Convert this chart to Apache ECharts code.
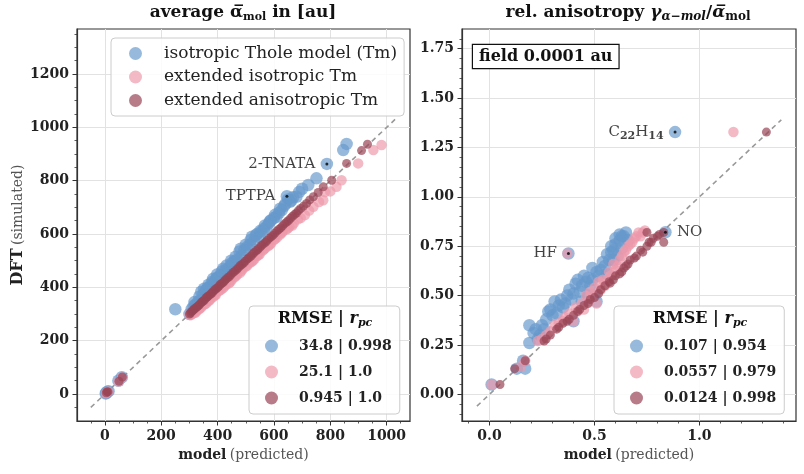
<!DOCTYPE html>
<html lang="en">
<head>
    <meta charset="UTF-8">
    <title>Thole model polarizabilities</title>
    <script src="https://cdn.jsdelivr.net/npm/echarts@6/dist/echarts.min.js"></script>
</head>
<body style="margin:0">
    <div id="main" style="width: 804px;height:474px;"></div>
    <script type="text/javascript">
        // series names and stats
        var names = ['isotropic Thole model (Tm)', 'extended isotropic Tm', 'extended anisotropic Tm'];
        var colors = ['rgba(102,153,204,0.85)', 'rgba(238,153,170,0.85)', 'rgba(153,68,85,0.88)'];
        var statsL = ['34.8 | 0.998', '25.1 | 1.0', '0.945 | 1.0'];
        var statsR = ['0.107 | 0.954', '0.0557 | 0.979', '0.0124 | 0.998'];

        // ticks
        var xTicksL = [0, 200, 400, 600, 800, 1000];
        var yTicksL = [0, 200, 400, 600, 800, 1000, 1200];
        var xMinorL = [-50, 50, 100, 150, 250, 300, 350, 450, 500, 550, 650, 700, 750, 850, 900, 950, 1050];
        var yMinorL = [-50, 50, 100, 150, 250, 300, 350, 450, 500, 550, 650, 700, 750, 850, 900, 950, 1050, 1100, 1150, 1250, 1300, 1350];
        var xTicksR = [0, 0.5, 1.0];
        var yTicksR = [0, 0.25, 0.5, 0.75, 1.0, 1.25, 1.5, 1.75];
        var xMinorR = [-0.1, 0.1, 0.2, 0.3, 0.4, 0.6, 0.7, 0.8, 0.9, 1.1, 1.2, 1.3, 1.4];
        var yMinorR = [-0.10, -0.05, 0.05, 0.10, 0.15, 0.20, 0.30, 0.35, 0.40, 0.45, 0.55, 0.60, 0.65, 0.70,
            0.80, 0.85, 0.90, 0.95, 1.05, 1.10, 1.15, 1.20, 1.30, 1.35, 1.40, 1.45, 1.55, 1.60, 1.65, 1.70, 1.80];

        // average polarizability (left)
        var isoL = [[5,4],[9,9],[13,11],[3,2],[48,50],[60,63],[250,318],
            [300,300],[308,318],[315,330],[322,336],[330,345],[338,352],[342,384],[350,375],[358,388],[365,398],
            [372,402],[380,420],[388,418],[395,432],[402,438],[410,445],[420,470],[428,462],[436,470],[445,478],
            [452,492],[460,498],[470,505],[478,535],[486,520],[495,540],[505,552],[515,560],[522,590],[530,575],
            [540,600],[548,590],[556,610],[565,620],[574,627],[582,640],[590,652],[600,660],[609,665],[618,680],
            [628,690],[640,712],[650,730],[646,742],[657,721],[668,738],[680,740],[700,770],[722,784],[751,809],
            [788,863],[846,915],[858,938],
            [318,345],[335,365],[352,395],[368,410],[384,432],[398,448],[415,460],[432,482],[448,500],[464,515],
            [482,545],[500,560],[518,578],[536,596],[552,612],[568,632],[586,648],[604,672],[622,695],[636,705],
            [662,726],[690,758]];
        var extL = [[4,3],[8,7],[12,10],[49,47],[61,62],[300,298],[310,300],[318,305],[326,312],[334,318],
            [342,325],[350,335],[360,340],[368,350],[376,358],[385,365],[394,372],[402,385],[412,392],[420,398],
            [430,410],[440,415],[450,428],[460,438],[470,448],[480,455],[490,470],[500,478],[512,490],[520,495],
            [530,505],[540,518],[550,525],[560,538],[570,548],[580,555],[590,565],[600,578],[612,588],[622,598],
            [632,610],[645,618],[655,628],[670,640],[685,655],[710,671],[740,702],[775,727],[781,758],[822,777],
            [840,802],[899,865],[953,915],[982,934],
            [305,296],[322,306],[338,322],[356,338],[372,352],[390,370],[407,388],[425,404],[445,420],[465,443],
            [485,462],[505,482],[525,500],[545,520],[565,543],[585,560],[605,582],[628,605],[650,622],[665,632],
            [695,660],[725,688],[760,720],[800,760]];
        var aniL = [[5,5],[8,9],[11,8],[50,48],[62,64],[300,300],[308,309],[316,317],[325,325],[334,333],
            [343,344],[352,351],[361,362],[370,370],[380,379],[390,391],[400,399],[410,411],[420,419],[430,431],
            [442,441],[455,456],[468,467],[480,481],[492,491],[505,506],[518,517],[530,531],[543,542],[556,557],
            [570,569],[583,584],[596,595],[610,611],[624,623],[638,639],[652,651],[666,667],[680,679],[695,696],
            [716,715],[740,740],[775,777],[805,802],[858,865],[911,913],[932,937],
            [304,304],[312,313],[320,321],[329,329],[338,338],[347,347],[356,357],[365,366],[375,375],[385,385],
            [395,395],[405,405],[415,415],[425,425],[436,436],[448,448],[461,461],[474,474],[486,486],[498,498],
            [511,511],[524,524],[537,537],[550,550],[563,563],[576,576],[590,590],[603,603],[617,617],[631,631],
            [645,645],[659,659],[673,673],[687,688],[705,705],[727,728],[757,756]];

        // relative anisotropy (right)
        var isoR = [[0.01,0.05],[0.13,0.13],[0.17,0.13],[0.16,0.17],[0.19,0.26],[0.19,0.35],[0.22,0.33],
            [0.25,0.35],[0.24,0.30],[0.28,0.42],[0.30,0.40],[0.33,0.45],[0.31,0.47],[0.35,0.44],[0.37,0.50],
            [0.39,0.48],[0.41,0.56],[0.43,0.52],[0.46,0.57],[0.48,0.55],[0.51,0.62],[0.50,0.50],[0.51,0.47],
            [0.40,0.37],[0.53,0.63],[0.55,0.65],[0.57,0.68],[0.58,0.72],[0.59,0.73],[0.60,0.76],[0.62,0.78],
            [0.63,0.80],[0.65,0.82],[0.64,0.80],[0.52,0.60],[0.56,0.61],[0.61,0.70],[0.376,0.713],[0.838,0.821],
            [0.884,1.328],
            [0.21,0.31],[0.23,0.28],[0.26,0.33],[0.27,0.38],[0.29,0.43],[0.32,0.41],[0.34,0.48],[0.36,0.46],
            [0.38,0.53],[0.40,0.51],[0.42,0.58],[0.44,0.55],[0.45,0.60],[0.47,0.59],[0.49,0.64],[0.54,0.67],
            [0.56,0.71],[0.58,0.75],[0.60,0.79],[0.62,0.81],[0.59,0.68],[0.63,0.74],[0.66,0.78],[0.47,0.50],
            [0.44,0.47],[0.49,0.58]];
        var extR = [[0.01,0.05],[0.15,0.14],[0.17,0.17],[0.23,0.27],[0.27,0.30],[0.29,0.32],[0.33,0.36],
            [0.36,0.39],[0.40,0.37],[0.42,0.42],[0.45,0.43],[0.47,0.47],[0.49,0.50],[0.51,0.46],[0.53,0.53],
            [0.55,0.55],[0.56,0.58],[0.58,0.60],[0.60,0.63],[0.61,0.65],[0.63,0.70],[0.64,0.72],[0.66,0.75],
            [0.68,0.77],[0.69,0.79],[0.71,0.82],[0.73,0.82],[0.371,0.713],[1.162,1.328],
            [0.25,0.28],[0.31,0.35],[0.35,0.37],[0.38,0.41],[0.41,0.44],[0.44,0.46],[0.46,0.50],[0.48,0.52],
            [0.50,0.54],[0.52,0.57],[0.54,0.58],[0.57,0.62],[0.59,0.66],[0.62,0.68],[0.65,0.73],[0.67,0.76],
            [0.70,0.80],[0.72,0.80],[0.74,0.83]];
        var aniR = [[0.05,0.05],[0.12,0.13],[0.17,0.17],[0.26,0.27],[0.29,0.30],[0.32,0.33],[0.35,0.36],
            [0.38,0.38],[0.42,0.42],[0.45,0.45],[0.48,0.48],[0.50,0.49],[0.52,0.51],[0.55,0.55],[0.575,0.563],
            [0.60,0.60],[0.62,0.61],[0.64,0.64],[0.66,0.66],[0.69,0.69],[0.72,0.73],[0.75,0.75],[0.77,0.77],
            [0.80,0.80],[0.83,0.82],[0.83,0.77],[0.75,0.82],[1.319,1.328],
            [0.27,0.28],[0.33,0.34],[0.37,0.37],[0.40,0.40],[0.43,0.43],[0.47,0.46],[0.53,0.53],[0.57,0.57],
            [0.59,0.58],[0.63,0.62],[0.65,0.65],[0.67,0.68],[0.70,0.70],[0.73,0.72],[0.76,0.77],[0.78,0.79],
            [0.81,0.81]];

        // labelled molecules
        var markL = [[788,863,'2-TNATA','left'],[646,742,'TPTPA','left']];
        var markR = [[0.376,0.713,'HF','left'],[0.838,0.821,'NO','right'],[0.884,1.328,'{n|C}{s|22}{n|H}{s|14}','left']];

        // y = x guide lines
        var diagL = [[-50,-50],[1030,1030]];
        var diagR = [[-0.06,-0.06],[1.39,1.39]];

        var myChart = echarts.init(document.getElementById('main'));

        var serif = 'DejaVu Serif';
        var tickFont = {fontFamily: serif, fontWeight: 'bold', fontSize: 14, color: '#222'};
        var sizes = [12.5, 10.5, 9];

        function mainAxis(grid, lo, hi, ticks, fmt, extra) {
            var a = {
                type: 'value', gridIndex: grid, min: lo, max: hi,
                axisLine: {show: true, onZero: false, lineStyle: {color: '#333', width: 1.2}},
                axisTick: {show: true, customValues: ticks, length: 4.5, lineStyle: {color: '#333', width: 1}},
                axisLabel: Object.assign({customValues: ticks, margin: 8, formatter: fmt}, tickFont),
                splitLine: {show: true, lineStyle: {color: '#e2e2e2', width: 1}}
            };
            return Object.assign(a, extra || {});
        }
        function minorAxis(grid, lo, hi, ticks, pos) {
            return {
                type: 'value', gridIndex: grid, min: lo, max: hi, position: pos,
                axisLine: {show: false, onZero: false},
                axisTick: {show: true, customValues: ticks, length: 2.5, lineStyle: {color: '#333', width: 0.8}},
                axisLabel: {show: false},
                splitLine: {show: false}
            };
        }

        var xName = {
            name: '{b|model} {n|(predicted)}', nameLocation: 'middle', nameGap: 27,
            nameTextStyle: {rich: {
                b: {fontFamily: serif, fontWeight: 'bold', fontSize: 14, color: '#222'},
                n: {fontFamily: serif, fontSize: 14, color: '#555'}
            }}
        };

        var series = [];
        function addPanel(gi, data, marks, diag) {
            series.push({
                type: 'line', xAxisIndex: gi * 2, yAxisIndex: gi * 2, data: diag, symbol: 'none', z: 1,
                lineStyle: {color: '#999', width: 1.6, type: [5, 4]}, silent: true
            });
            for (var i = 0; i < 3; i++) {
                series.push({
                    name: names[i], type: 'scatter', xAxisIndex: gi * 2, yAxisIndex: gi * 2,
                    data: data[i], symbolSize: sizes[i], z: 2 + i,
                    itemStyle: {color: colors[i]}
                });
            }
            series.push({
                type: 'scatter', xAxisIndex: gi * 2, yAxisIndex: gi * 2, z: 6, symbolSize: 3,
                itemStyle: {color: '#000'},
                data: marks.map(function (m) {
                    return {
                        value: [m[0], m[1]],
                        label: {
                            show: true, position: m[3], distance: 10, formatter: m[2],
                            fontFamily: serif, fontSize: 15, color: '#111',
                            rich: {
                                n: {fontFamily: serif, fontSize: 15, color: '#111'},
                                s: {fontFamily: serif, fontWeight: 'bold', fontSize: 11, color: '#111', padding: [8, 0, 0, 0]}
                            }
                        }
                    };
                })
            });
        }
        addPanel(0, [isoL, extL, aniL], markL, diagL);
        addPanel(1, [isoR, extR, aniR], markR, diagR);

        function statLegend(left, stats) {
            return {
                orient: 'vertical', left: left, top: 306, data: names,
                icon: 'circle', itemWidth: 13, itemHeight: 13, itemGap: 12,
                padding: [33, 8, 9, 16], selectedMode: false,
                backgroundColor: 'rgba(255,255,255,0.85)', borderColor: '#ccc', borderWidth: 1, borderRadius: 4,
                formatter: function (n) { return stats[names.indexOf(n)]; },
                textStyle: {fontFamily: serif, fontWeight: 'bold', fontSize: 14, color: '#222', padding: [0, 0, 0, 16]}
            };
        }

        var boldRich = function (size, sub) {
            return {
                b: {fontFamily: serif, fontWeight: 'bold', fontSize: size, fill: '#111', lineHeight: 20},
                s: {fontFamily: serif, fontWeight: 'bold', fontSize: sub, fill: '#111', verticalAlign: 'bottom', lineHeight: 14},
                i: {fontFamily: serif, fontWeight: 'bold', fontStyle: 'italic', fontSize: size, fill: '#111', lineHeight: 20},
                is: {fontFamily: serif, fontWeight: 'bold', fontStyle: 'italic', fontSize: sub, fill: '#111', verticalAlign: 'bottom', lineHeight: 14}
            };
        };

        var option = {
            animation: false,
            grid: [
                {left: 77, top: 29, width: 333, height: 392, show: true, borderColor: '#333', borderWidth: 1.2, backgroundColor: '#fff'},
                {left: 462, top: 29, width: 334, height: 392, show: true, borderColor: '#333', borderWidth: 1.2, backgroundColor: '#fff'}
            ],
            xAxis: [
                mainAxis(0, -99, 1083, xTicksL, function (v) { return String(v); }, xName),
                minorAxis(0, -99, 1083, xMinorL, 'bottom'),
                mainAxis(1, -0.131, 1.46, xTicksR, function (v) { return v.toFixed(1); }, xName),
                minorAxis(1, -0.131, 1.46, xMinorR, 'bottom')
            ],
            yAxis: [
                mainAxis(0, -101, 1369, yTicksL, function (v) { return String(v); }, {
                    name: '{b|DFT} {n|(simulated)}', nameLocation: 'middle', nameGap: 50, nameRotate: 90,
                    nameTextStyle: {rich: {
                        b: {fontFamily: serif, fontWeight: 'bold', fontSize: 16, color: '#222'},
                        n: {fontFamily: serif, fontSize: 14, color: '#555'}
                    }}
                }),
                minorAxis(0, -101, 1369, yMinorL, 'left'),
                mainAxis(1, -0.135, 1.85, yTicksR, function (v) { return v.toFixed(2); }),
                minorAxis(1, -0.135, 1.85, yMinorR, 'left')
            ],
            legend: [
                {
                    orient: 'vertical', left: 111, top: 38, data: names,
                    icon: 'circle', itemWidth: 13, itemHeight: 13, itemGap: 6.5,
                    padding: [7, 7, 7, 18], selectedMode: false,
                    backgroundColor: 'rgba(255,255,255,0.85)', borderColor: '#ccc', borderWidth: 1, borderRadius: 4,
                    textStyle: {fontFamily: serif, fontSize: 17, color: '#222', padding: [0, 0, 0, 17]}
                },
                statLegend(249, statsL),
                statLegend(614, statsR)
            ],
            graphic: [
                {type: 'text', x: 243, y: 13, z: 10, style: {
                    text: '{b|average \u03B1\u0305}{s|mol}{b| in [au]}', align: 'center', verticalAlign: 'middle',
                    rich: boldRich(17, 11)}},
                {type: 'text', x: 628, y: 13, z: 10, style: {
                    text: '{b|rel. anisotropy }{i|\u03B3}{is|\u03B1\u2212mol}{b|/}{i|\u03B1\u0305}{s|mol}', align: 'center', verticalAlign: 'middle',
                    rich: boldRich(17, 12)}},
                {type: 'text', x: 325, y: 319, z: 10, style: {
                    text: '{b|RMSE | }{i|r}{is|pc}', align: 'center', verticalAlign: 'middle',
                    rich: boldRich(16, 11)}},
                {type: 'text', x: 700, y: 319, z: 10, style: {
                    text: '{b|RMSE | }{i|r}{is|pc}', align: 'center', verticalAlign: 'middle',
                    rich: boldRich(16, 11)}},
                {type: 'text', x: 473, y: 45, z: 10, style: {
                    text: 'field 0.0001 au', fontFamily: serif, fontWeight: 'bold', fontSize: 16, fill: '#111',
                    backgroundColor: '#fff', borderColor: '#111', borderWidth: 1.2, padding: [4, 6, 3, 6]}}
            ],
            series: series
        };

        myChart.setOption(option);
    </script>
</body>
</html>
